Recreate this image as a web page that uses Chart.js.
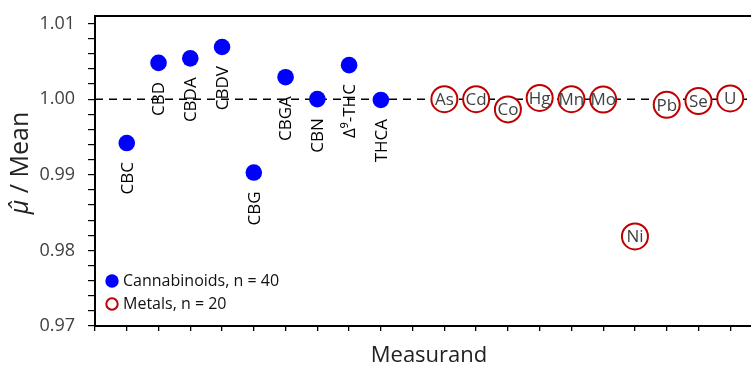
<!DOCTYPE html>
<html>
<head>
<meta charset="utf-8">
<script src="https://cdn.jsdelivr.net/npm/chart.js@4.4.1/dist/chart.umd.min.js"></script>
<style>
  html, body { margin: 0; padding: 0; overflow: hidden; background: #fff; }
  #wrap { position: absolute; left: 0; top: 0; width: 762px; height: 365px; }
</style>
</head>
<body>
<div id="wrap"><canvas id="ratioChart" width="762" height="365"></canvas></div>
<script>
// categories along the x axis (blank slots are empty positions)
const cannabinoids = ['CBC', 'CBD', 'CBDA', 'CBDV', 'CBG', 'CBGA', 'CBN', 'Δ⁹-THC', 'THCA'];
const metals = ['As', 'Cd', 'Co', 'Hg', 'Mn', 'Mo', 'Ni', 'Pb', 'Se', 'U'];
const slots = [' ', ...cannabinoids, '  ', ...metals, '   '];

// mu-hat / mean ratios
const cannabinoidRatio = [0.9942, 1.0048, 1.0054, 1.0069, 0.9903, 1.0029, 1.0000, 1.0045, 0.9999];
const metalRatio = [1.0000, 1.0000, 0.99865, 1.00016, 1.0000, 0.99995, 0.98185, 0.99925, 0.99976, 1.0001];
const referenceLine = slots.map(() => 1.0);

const yMin = 0.97, yMax = 1.011, yStep = 0.002;

function noPadding(scale) {
  scale.paddingLeft = 0;
  scale.paddingRight = 0;
  scale.paddingTop = 0;
  scale.paddingBottom = 0;
}

const pointLabels = {
  id: 'pointLabels',
  afterDatasetsDraw(chart) {
    const ctx = chart.ctx;
    ctx.save();
    ctx.font = '17px "Open Sans"';
    ctx.fillStyle = '#000';
    ctx.textAlign = 'right';
    ctx.textBaseline = 'middle';
    chart.getDatasetMeta(0).data.forEach((pt, i) => {
      ctx.save();
      ctx.translate(pt.x, pt.y + 19);
      ctx.rotate(-Math.PI / 2);
      ctx.fillText(cannabinoids[i], 0, 1);
      ctx.restore();
    });
    ctx.textAlign = 'center';
    ctx.fillStyle = '#404040';
    ctx.font = '17px "Open Sans"';
    chart.getDatasetMeta(1).data.forEach((pt, i) => {
      ctx.fillText(metals[i], pt.x, pt.y + 1);
    });
    ctx.restore();
  }
};

const decor = {
  id: 'decor',
  afterDraw(chart) {
    const {ctx, chartArea} = chart;
    ctx.save();
    // legend
    const lx = chartArea.left + 17;
    ctx.beginPath();
    ctx.arc(lx, chartArea.bottom - 45, 6.7, 0, Math.PI * 2);
    ctx.fillStyle = '#0000ff';
    ctx.fill();
    ctx.beginPath();
    ctx.arc(lx, chartArea.bottom - 22, 5.7, 0, Math.PI * 2);
    ctx.strokeStyle = '#c00000';
    ctx.lineWidth = 2;
    ctx.stroke();
    ctx.font = '16px "Open Sans"';
    ctx.fillStyle = '#111';
    ctx.textBaseline = 'middle';
    ctx.textAlign = 'left';
    ctx.fillText('Cannabinoids, n = 40', lx + 11, chartArea.bottom - 45);
    ctx.fillText('Metals, n = 20', lx + 11, chartArea.bottom - 22);

    // x title
    ctx.font = '22px "Open Sans"';
    ctx.fillStyle = '#222';
    ctx.textAlign = 'center';
    ctx.textBaseline = 'alphabetic';
    ctx.fillText('Measurand', 429, 362);

    // y title
    ctx.save();
    ctx.translate(28, 163);
    ctx.rotate(-Math.PI / 2);
    ctx.textAlign = 'left';
    const muFont = 'italic 25px "Open Sans"';
    const restFont = '25px "Open Sans"';
    ctx.font = muFont;
    const w1 = ctx.measureText('μ̂').width;
    ctx.font = restFont;
    const w2 = ctx.measureText(' / Mean').width;
    const x0 = -(w1 + w2) / 2;
    ctx.font = muFont;
    ctx.fillText('μ̂', x0, 0);
    ctx.font = restFont;
    ctx.fillText(' / Mean', x0 + w1, 0);
    ctx.restore();
    ctx.restore();
  }
};

new Chart(document.getElementById('ratioChart'), {
  type: 'line',
  data: {
    labels: slots,
    datasets: [
      {
        label: 'Cannabinoids, n = 40',
        data: cannabinoids.map((c, i) => ({x: c, y: cannabinoidRatio[i]})),
        showLine: false,
        pointRadius: 8.3,
        pointBackgroundColor: '#0000ff',
        pointBorderWidth: 0,
        clip: false
      },
      {
        label: 'Metals, n = 20',
        data: metals.map((m, i) => ({x: m, y: metalRatio[i]})),
        showLine: false,
        pointRadius: 13,
        pointBackgroundColor: '#ffffff',
        pointBorderColor: '#c00000',
        pointBorderWidth: 2,
        clip: false
      },
      {
        label: 'ref',
        data: referenceLine,
        borderColor: '#000',
        borderWidth: 1.5,
        borderDash: [8, 6],
        pointRadius: 0,
        fill: false
      }
    ]
  },
  options: {
    responsive: false,
    animation: false,
    events: [],
    layout: { padding: 0, autoPadding: false },
    plugins: { legend: { display: false }, tooltip: { enabled: false } },
    scales: {
      x: {
        type: 'category',
        position: 'bottom',
        offset: false,
        grid: { drawOnChartArea: false, drawTicks: true, tickLength: 5, color: '#000', lineWidth: 1.3 },
        border: { display: true, color: '#000', width: 2 },
        ticks: { display: false, autoSkip: false },
        afterFit(scale) { scale.height = 39; noPadding(scale); }
      },
      xTop: {
        type: 'linear',
        position: 'top',
        grid: { display: false },
        border: { display: true, color: '#000', width: 2 },
        ticks: { display: false },
        afterFit(scale) { scale.height = 16; noPadding(scale); }
      },
      y: {
        min: yMin,
        max: yMax,
        grid: { drawOnChartArea: false, drawTicks: true, tickLength: 7, color: '#000', lineWidth: 1.2 },
        border: { display: true, color: '#000', width: 2 },
        ticks: {
          stepSize: yStep,
          maxTicksLimit: 40,
          autoSkip: false,
          includeBounds: false,
          padding: 13,
          color: '#404040',
          font: { family: '"Open Sans"', size: 18 },
          callback: (v) => Math.abs(v * 100 - Math.round(v * 100)) < 1e-6 ? v.toFixed(2) : ''
        },
        afterFit(scale) { scale.width = 95; noPadding(scale); }
      }
    }
  },
  plugins: [pointLabels, decor]
});
</script>
</body>
</html>
